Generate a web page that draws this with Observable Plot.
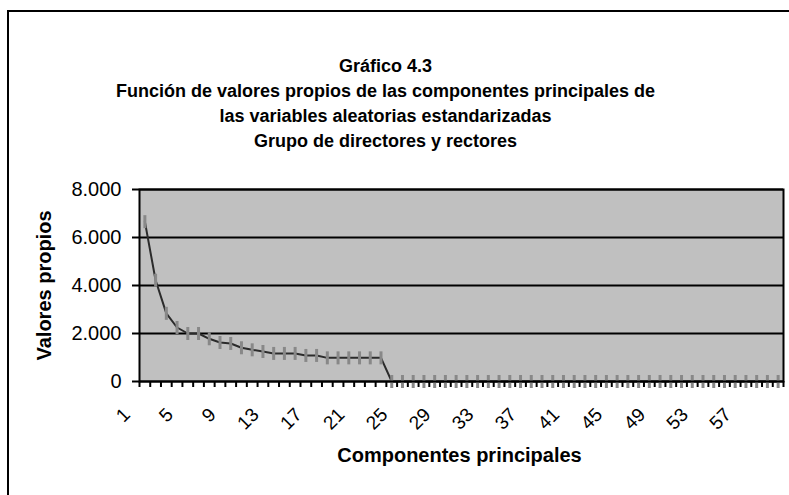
<!DOCTYPE html>
<html><head><meta charset="utf-8">
<script src="https://cdn.jsdelivr.net/npm/d3@7"></script>
<script src="https://cdn.jsdelivr.net/npm/@observablehq/plot@0.6"></script>
<style>
body{margin:0;background:#fff;}
#wrap{position:relative;width:789px;height:495px;overflow:hidden;font-family:"Liberation Sans",Arial,sans-serif;}
#border{position:absolute;left:7px;top:10px;width:900px;height:600px;border-left:2px solid #000;border-top:2px solid #000;}
#title{position:absolute;left:0;width:771px;top:54px;text-align:center;font-weight:bold;font-size:18px;line-height:25px;color:#000;}
#chart{position:absolute;left:0;top:0;}
</style></head><body>
<div id="wrap"><div id="border"></div><div id="title"></div><div id="chart"></div></div>
<script>
const titleLines = [
  "Gráfico 4.3",
  "Función de valores propios de las componentes principales de",
  "las variables aleatorias estandarizadas",
  "Grupo de directores y rectores"
];
const xTitle = "Componentes principales";
const yTitle = "Valores propios";
const componentes = [1,2,3,4,5,6,7,8,9,10,11,12,13,14,15,16,17,18,19,20,21,22,23,24,25,26,27,28,29,30,31,32,33,34,35,36,37,38,39,40,41,42,43,44,45,46,47,48,49,50,51,52,53,54,55,56,57,58,59,60];
const valores = [6660,4220,2840,2250,2000,2000,1780,1625,1585,1405,1320,1250,1170,1170,1170,1085,1085,985,985,985,985,985,985,0,0,0,0,0,0,0,0,0,0,0,0,0,0,0,0,0,0,0,0,0,0,0,0,0,0,0,0,0,0,0,0,0,0,0,0,0];
const xTickLabels = [1,5,9,13,17,21,25,29,33,37,41,45,49,53,57];
const yTicks = [0,2000,4000,6000,8000];

document.getElementById("title").innerHTML = titleLines.map(t => `<div>${t}</div>`).join("");

const data = componentes.map((c, i) => ({c, v: valores[i]}));
const bounds = componentes.map(c => c - 0.5).concat([componentes[componentes.length - 1] + 0.5]);
const fmt = d => d3.format(",")(d).replace(/,/g, ".");
const bar = {draw(ctx) { ctx.moveTo(0, -6.5); ctx.lineTo(0, 6.5); }};

const plot = Plot.plot({
  width: 789, height: 495,
  marginLeft: 139, marginRight: 6, marginTop: 189, marginBottom: 114,
  style: {fontFamily: "'Liberation Sans', Arial, sans-serif", background: "transparent", overflow: "visible", color: "#000"},
  x: {type: "linear", domain: [componentes[0] - 0.5, componentes[componentes.length - 1] + 0.5]},
  y: {domain: [0, 8000]},
  marks: [
    Plot.frame({fill: "#c0c0c0"}),
    Plot.gridY(yTicks, {stroke: "#000", strokeOpacity: 1, strokeWidth: 2}),
    Plot.line(data, {x: "c", y: "v", stroke: "#2b2b2b", strokeWidth: 2}),
    Plot.dot(data, {x: "c", y: "v", symbol: bar, fill: "none", stroke: "#888", strokeWidth: 3}),
    Plot.frame({stroke: "#000", strokeWidth: 2}),
    Plot.axisY(yTicks, {tickSize: 7, tickPadding: 11, tickFormat: fmt, fontSize: 20, label: null, strokeWidth: 2}),
    Plot.axisX(bounds, {tickSize: 6, tickFormat: () => "", label: null, strokeWidth: 2}),
    Plot.axisX(xTickLabels, {tickSize: 0, tickPadding: 30, tickRotate: -45, dx: -18, fontSize: 19, label: null, tickFormat: d => String(d)}),
    Plot.text([yTitle], {frameAnchor: "left", textAnchor: "middle", dx: -95, rotate: -90, fontWeight: "bold", fontSize: 20, fill: "#000"}),
    Plot.text([xTitle], {frameAnchor: "bottom", textAnchor: "middle", dy: 80, dx: -2, fontWeight: "bold", fontSize: 20, fill: "#000"})
  ]
});
document.getElementById("chart").appendChild(plot);
</script>
</body></html>
